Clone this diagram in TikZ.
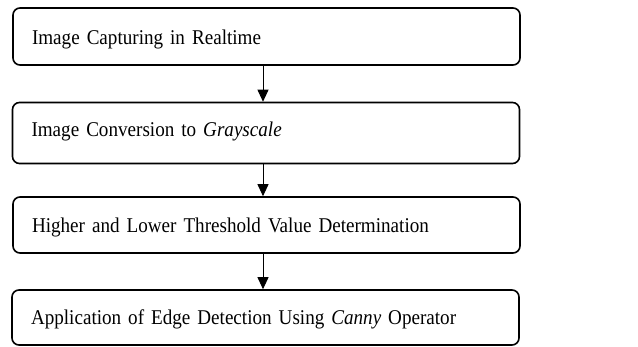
\documentclass[tikz,border=0pt]{standalone}
\usepackage{fontspec}
\setmainfont[FakeStretch=0.91,WordSpace=0.85]{Liberation Serif}
\usetikzlibrary{arrows.meta}
\begin{document}
\begin{tikzpicture}[x=1pt,y=-1pt,
  stepbox/.style={draw=black, line width=1.6pt, rounded corners=7pt,
    minimum width=507pt, text width=469pt, align=left, inner xsep=19pt,
    font=\fontsize{21}{25}\selectfont, anchor=center, text depth=0pt},
  flow/.style={draw=black, line width=0.9pt, -{Triangle[length=12pt,width=11pt]}}]
\useasboundingbox (0,0) rectangle (638,347);
\node[stepbox, minimum height=57pt, text height=17pt] (b1) at (266.5,36.5) {Image Capturing in Realtime};
\node[stepbox, minimum height=61pt, text height=14pt, text depth=6pt] (b2) at (266,133) {Image Conversion to \textit{Grayscale}};
\node[stepbox, minimum height=56pt, text height=16pt] (b3) at (266.5,225) {Higher and Lower Threshold Value Determination};
\node[stepbox, minimum height=55pt, text height=15pt] (b4) at (265.5,317.5) {Application of Edge Detection Using \textit{Canny} Operator};
\coordinate (col) at (263,0);
\draw[flow] (b1.south -| col) -- (b2.north -| col);
\draw[flow] (b2.south -| col) -- (b3.north -| col);
\draw[flow] (b3.south -| col) -- (b4.north -| col);
\end{tikzpicture}
\end{document}
